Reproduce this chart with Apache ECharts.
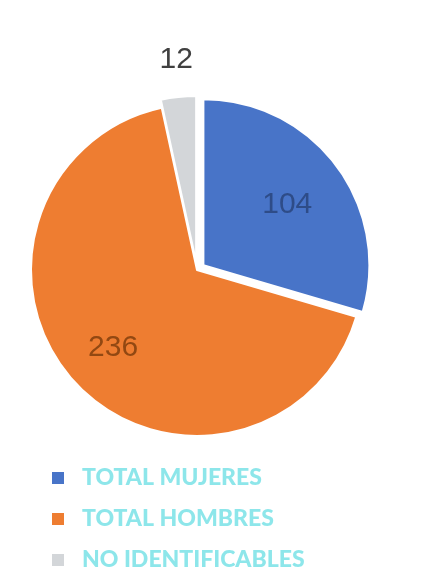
<!DOCTYPE html>
<html><head><meta charset="utf-8">
<script src="https://cdn.jsdelivr.net/npm/echarts@6/dist/echarts.min.js"></script>
<style>html,body{margin:0;padding:0;background:#fff}#c{width:422px;height:568px}</style>
</head><body><div id="c"></div>
<script>
const categories = ['TOTAL MUJERES', 'TOTAL HOMBRES', 'NO IDENTIFICABLES'];
const values = [104, 236, 12];
const colors = ['#4874C8', '#EE7D31', '#D3D6D9'];
const labelColors = ['#2e4c88', '#924812', '#404040'];
const labelShift = [[15, -9], [-21, 19], [21, -23]];

const chart = echarts.init(document.getElementById('c'));
const data = categories.map((name, i) => ({
  name, value: values[i],
  selected: i !== 1,
  itemStyle: { color: colors[i] },
  label: { position: i === 2 ? 'outside' : 'inside', color: labelColors[i] },
  labelLine: { show: false }
}));
chart.setOption({
  animation: false,
  backgroundColor: '#ffffff',
  legend: {
    orient: 'vertical', left: 50, top: 464, height: 200,
    padding: 0,
    itemWidth: 14, itemHeight: 14, itemGap: 13,
    icon: 'rect',
    data: categories,
    textStyle: { color: '#8de6ea', fontFamily: 'Lato', fontWeight: 900, fontSize: 23, lineHeight: 28, padding: [0, 0, 0, 12] }
  },
  series: [{
    type: 'pie',
    center: [197, 270],
    radius: 166,
    startAngle: 90,
    clockwise: true,
    selectedMode: 'multiple',
    selectedOffset: 8,
    avoidLabelOverlap: false,
    itemStyle: { borderColor: '#fff', borderWidth: 2 },
    label: { show: true, formatter: '{c}', fontSize: 30, fontFamily: 'Liberation Sans' },
    labelLine: { show: false, length: 14, length2: 0 },
    labelLayout: function (p) { const s = labelShift[p.dataIndex]; return { dx: s[0], dy: s[1] }; },
    emphasis: { disabled: true },
    data
  }]
});
</script></body></html>
